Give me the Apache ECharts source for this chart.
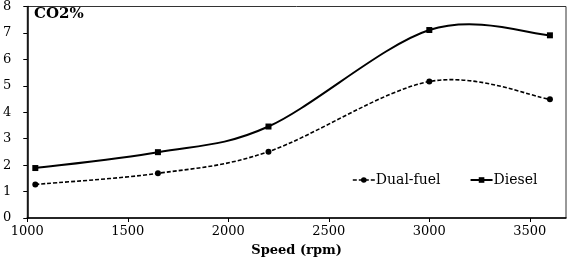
<!DOCTYPE html>
<html>
<head>
<meta charset="utf-8">
<script src="https://cdn.jsdelivr.net/npm/echarts@6/dist/echarts.min.js"></script>
<style>
    html, body { margin: 0; padding: 0; background: #fff; }
    #chart { width: 573px; height: 262px; }
</style>
</head>
<body>
<div id="chart"></div>
<script>
// values
var speed = [1040, 1650, 2200, 3000, 3600];
var dualFuel = [1.27, 1.69, 2.51, 5.16, 4.49];
var diesel = [1.89, 2.49, 3.46, 7.11, 6.91];

var serif = 'DejaVu Serif';

function pairs(ys) {
    return speed.map(function (x, i) { return [x, ys[i]]; });
}

// spreadsheet-style smoothed curve (catmull-rom, tension 1/6) through the
// pixel positions the axes give for each point
function curveRenderer(ys, style) {
    return function (params, api) {
        if (params.dataIndex !== 0) return;
        var pts = speed.map(function (x, i) { return api.coord([x, ys[i]]); });
        var n = pts.length;
        var d = 'M' + pts[0][0] + ',' + pts[0][1];
        for (var i = 0; i < n - 1; i++) {
            var p0 = pts[Math.max(i - 1, 0)];
            var p1 = pts[i];
            var p2 = pts[i + 1];
            var p3 = pts[Math.min(i + 2, n - 1)];
            var c1x = p1[0] + (p2[0] - p0[0]) / 6;
            var c1y = p1[1] + (p2[1] - p0[1]) / 6;
            var c2x = p2[0] - (p3[0] - p1[0]) / 6;
            var c2y = p2[1] - (p3[1] - p1[1]) / 6;
            d += ' C' + c1x + ',' + c1y + ' ' + c2x + ',' + c2y + ' ' + p2[0] + ',' + p2[1];
        }
        return {
            type: 'path',
            shape: { pathData: d },
            style: style
        };
    };
}

var chart = echarts.init(document.getElementById('chart'));
chart.setOption({
    animation: false,
    textStyle: { fontFamily: serif, color: '#000' },
    title: {
        text: 'CO2%',
        left: 29,
        top: 2,
        textStyle: { fontFamily: serif, fontSize: 15, fontWeight: 'bold', color: '#000' }
    },
    grid: {
        left: 27,
        right: 7,
        top: 4,
        bottom: 42,
        show: true,
        borderColor: '#333',
        borderWidth: 1
    },
    legend: {
        left: 347,
        top: 168,
        itemWidth: 22,
        itemHeight: 7,
        itemGap: 29,
        textStyle: { fontFamily: serif, fontSize: 14, color: '#000', padding: [0, 0, 0, -4] },
        data: [
            { name: 'Dual-fuel', lineStyle: { opacity: 1, width: 1.6, type: [4, 2] } },
            { name: 'Diesel', lineStyle: { opacity: 1, width: 2, type: 'solid' } }
        ]
    },
    xAxis: {
        type: 'value',
        min: 1000,
        max: 3680,
        interval: 500,
        name: 'Speed (rpm)',
        nameLocation: 'middle',
        nameGap: 26,
        nameTextStyle: { fontFamily: serif, fontSize: 13, fontWeight: 'bold', color: '#000' },
        axisLine: { lineStyle: { color: '#000', width: 1.5 } },
        axisTick: { length: 4, lineStyle: { color: '#000' } },
        axisLabel: {
            fontFamily: serif, fontSize: 13, color: '#000', margin: 7, showMaxLabel: false,
            formatter: function (v) { return String(v); }
        },
        splitLine: { show: false }
    },
    yAxis: {
        type: 'value',
        min: 0,
        max: 8,
        interval: 1,
        axisLine: { show: true, lineStyle: { color: '#000', width: 1.5 } },
        axisTick: { show: true, length: 4, lineStyle: { color: '#000' } },
        axisLabel: { fontFamily: serif, fontSize: 13, color: '#000', margin: 16 },
        splitLine: { show: false }
    },
    series: [
        {
            name: 'Dual-fuel curve',
            type: 'custom',
            data: pairs(dualFuel),
            renderItem: curveRenderer(dualFuel, {
                stroke: '#000', lineWidth: 1.6, lineDash: [4, 2], fill: null
            }),
            z: 2
        },
        {
            name: 'Diesel curve',
            type: 'custom',
            data: pairs(diesel),
            renderItem: curveRenderer(diesel, {
                stroke: '#000', lineWidth: 2, fill: null
            }),
            z: 2
        },
        {
            name: 'Dual-fuel',
            type: 'line',
            data: pairs(dualFuel),
            symbol: 'circle',
            symbolSize: 6,
            itemStyle: { color: '#000' },
            lineStyle: { color: '#000', width: 1.6, type: [4, 2], opacity: 0 },
            z: 3
        },
        {
            name: 'Diesel',
            type: 'line',
            data: pairs(diesel),
            symbol: 'rect',
            symbolSize: 6,
            itemStyle: { color: '#000' },
            lineStyle: { color: '#000', width: 2, opacity: 0 },
            z: 3
        }
    ]
});
</script>
</body>
</html>
